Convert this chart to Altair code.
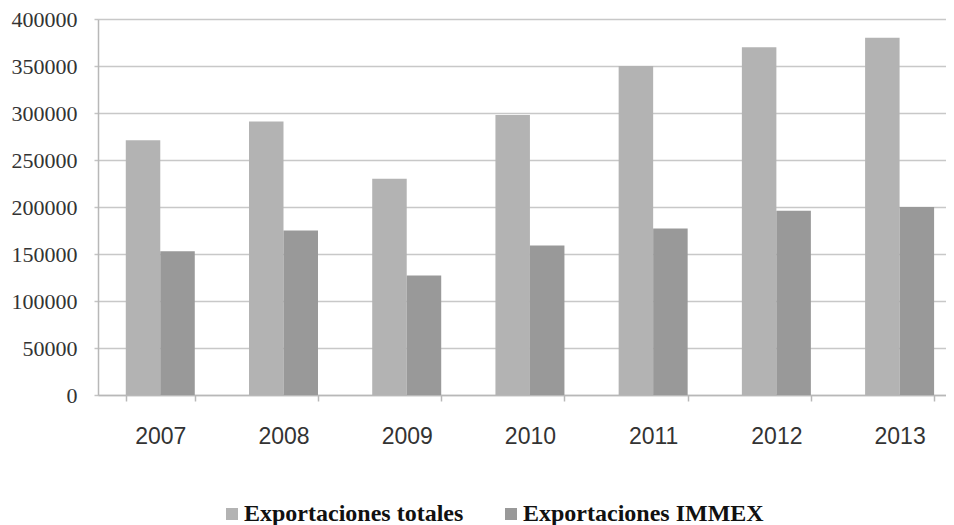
import altair as alt
import pandas as pd

years = ["2007", "2008", "2009", "2010", "2011", "2012", "2013"]
totales = [271000, 291000, 230000, 298000, 350000, 370000, 380000]
immex = [153000, 175000, 127000, 159000, 177000, 196000, 200000]
series = ["Exportaciones totales", "Exportaciones IMMEX"]
colors = ["#b3b3b3", "#999999"]
y_ticks = [0, 50000, 100000, 150000, 200000, 250000, 300000, 350000, 400000]

rows = []
for i, yr in enumerate(years):
    rows.append({"year": yr, "serie": series[0], "value": totales[i]})
    rows.append({"year": yr, "serie": series[1], "value": immex[i]})
df = pd.DataFrame(rows)

chart = alt.Chart(df).mark_bar().encode(
    x=alt.X(
        "year:N",
        sort=years,
        scale=alt.Scale(paddingInner=0.44, paddingOuter=0.161, align=0.7),
        axis=alt.Axis(
            title=None,
            labelAngle=0,
            labelFont="Liberation Sans",
            labelFontSize=23,
            labelColor="#333333",
            labelPadding=24,
            tickBand="extent",
            tickSize=6,
            tickColor="#b8b8b8",
            tickWidth=1.5,
            domainColor="#b8b8b8",
            domainWidth=1.5,
        ),
    ),
    xOffset=alt.XOffset("serie:N", sort=series, scale=alt.Scale(paddingInner=0, paddingOuter=0)),
    y=alt.Y(
        "value:Q",
        scale=alt.Scale(domain=[0, 400000], nice=False),
        axis=alt.Axis(
            title=None,
            values=y_ticks,
            format="d",
            labelFont="Liberation Serif",
            labelFontSize=22,
            labelColor="#333333",
            labelPadding=17,
            tickSize=4,
            tickColor="#c4c4c4",
            tickWidth=1.5,
            gridColor="#c8c8c8",
            gridWidth=1.5,
            domainColor="#b8b8b8",
            domainWidth=1.5,
        ),
    ),
    color=alt.Color(
        "serie:N",
        sort=series,
        scale=alt.Scale(domain=series, range=colors),
        legend=alt.Legend(
            title=None,
            orient="none",
            legendX=122,
            legendY=483,
            direction="horizontal",
            symbolType="square",
            symbolSize=144,
            symbolStrokeWidth=0,
            labelFont="Liberation Serif",
            labelFontWeight="bold",
            labelFontSize=24,
            labelColor="#111111",
            labelOffset=0,
            labelLimit=0,
            columnPadding=35,
        ),
    ),
).properties(
    width=848,
    height=376,
    autosize=alt.AutoSizeParams(type="none"),
    padding={"left": 90, "top": 11, "right": 0, "bottom": 132},
).configure_view(stroke=None)

chart.save("out.html", embed_options={"renderer": "svg", "actions": False})
